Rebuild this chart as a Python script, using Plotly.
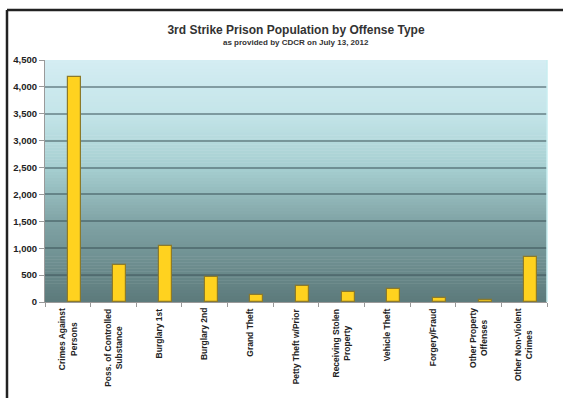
import plotly.graph_objects as go

categories = [
    "Crimes Against<br>Persons",
    "Poss. of Controlled<br>Substance",
    "Burglary 1st",
    "Burglary 2nd",
    "Grand Theft",
    "Petty Theft w/Prior",
    "Receiving Stolen<br>Property",
    "Vehicle Theft",
    "Forgery/Fraud",
    "Other Property<br>Offenses",
    "Other Non-Violent<br>Crimes",
]
population = [4180, 680, 1050, 458, 122, 305, 180, 240, 70, 45, 835]
y_ticks = [0, 500, 1000, 1500, 2000, 2500, 3000, 3500, 4000, 4500]
y_tick_text = ["0", "500", "1,000", "1,500", "2,000", "2,500", "3,000", "3,500", "4,000", "4,500"]

FONT = "Arial, Liberation Sans, sans-serif"

fig = go.Figure()
fig.add_trace(go.Bar(
    x=categories,
    y=population,
    width=0.285,
    offset=0.0,
    marker=dict(color="#FFD21F", line=dict(color="#8C7A2A", width=1.2)),
    hoverinfo="x+y",
))

# vertical gradient background built from stripes
stops = [
    (0.0, (92, 122, 123)),
    (0.33, (128, 163, 165)),
    (0.55, (165, 206, 208)),
    (0.78, (196, 229, 233)),
    (1.0, (212, 237, 243)),
]

def col_at(t):
    for i in range(len(stops) - 1):
        t0, c0 = stops[i]
        t1, c1 = stops[i + 1]
        if t0 <= t <= t1:
            f = (t - t0) / (t1 - t0)
            return "rgb(%d,%d,%d)" % tuple(round(a + (b - a) * f) for a, b in zip(c0, c1))
    return "rgb(%d,%d,%d)" % stops[-1][1]

shapes = []
N = 80
for i in range(N):
    y0 = i / N
    y1 = (i + 1) / N + 0.002
    shapes.append(dict(
        type="rect", xref="x domain", yref="y domain",
        x0=0, x1=1, y0=y0, y1=min(y1, 1),
        fillcolor=col_at((i + 0.5) / N), line=dict(width=0), layer="below",
    ))

# outer frame (top and left edges)
shapes.append(dict(type="line", xref="paper", yref="paper",
                   x0=-0.0757, x1=1.05, y0=1.2066, y1=1.2066,
                   line=dict(color="#222222", width=2.5)))
shapes.append(dict(type="line", xref="paper", yref="paper",
                   x0=-0.0757, x1=-0.0757, y0=1.2066, y1=-0.45,
                   line=dict(color="#222222", width=2.5)))
# light right edge of plot area
shapes.append(dict(type="line", xref="x domain", yref="y domain",
                   x0=1, x1=1, y0=0, y1=1,
                   line=dict(color="#c8eef0", width=1.5)))

annotations = [dict(
    text="<b>as provided by CDCR on July 13, 2012</b>",
    xref="paper", yref="paper", x=0.5, y=(302 - 43) / 242,
    xanchor="center", yanchor="middle", showarrow=False,
    font=dict(family=FONT, size=8, color="#333333"),
)]
# category labels, rotated, lines centred on each other
for cat in categories:
    annotations.append(dict(
        text=cat, xref="x", yref="paper", x=cat, y=-0.018,
        xanchor="center", yanchor="top", textangle=-90, align="center",
        showarrow=False,
        font=dict(family=FONT, size=8.5, color="#222222", weight="bold"),
    ))

fig.update_layout(
    width=563, height=398,
    margin=dict(l=45, r=16, t=60, b=96),
    paper_bgcolor="white",
    plot_bgcolor="rgba(0,0,0,0)",
    showlegend=False,
    bargap=0,
    title=dict(
        text="<b>3rd Strike Prison Population by Offense Type</b>",
        x=0.5, xref="paper", xanchor="center",
        y=1 - 30 / 398, yref="container", yanchor="middle",
        font=dict(family=FONT, size=12, color="#333333"),
    ),
    annotations=annotations,
    shapes=shapes,
    xaxis=dict(
        type="category",
        tickson="boundaries",
        ticks="outside", ticklen=4, tickcolor="#999999",
        showline=True, linecolor="#9a9a9a", linewidth=1,
        showgrid=False,
        showticklabels=False,
        range=[-0.5, 10.5],
    ),
    yaxis=dict(
        range=[0, 4500],
        tickvals=y_ticks, ticktext=y_tick_text,
        ticks="outside", ticklen=5, tickcolor="#999999",
        showline=True, linecolor="#9a9a9a", linewidth=1,
        showgrid=True, gridcolor="rgba(55,80,85,0.5)", gridwidth=1.5,
        zeroline=False,
        tickfont=dict(family=FONT, size=9.5, color="#222222", weight="bold"),
    ),
)

fig.write_html("out.html")
